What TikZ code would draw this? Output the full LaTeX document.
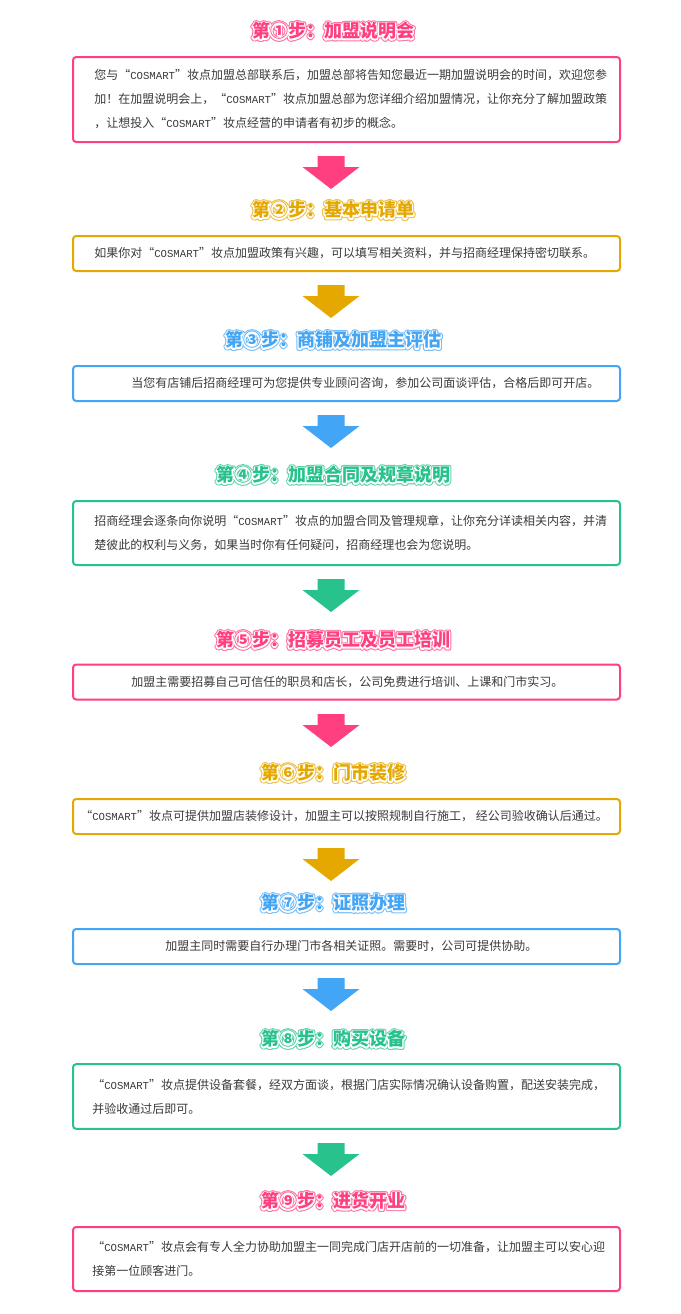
\documentclass[tikz,border=0pt]{standalone}
\usepackage{fontspec}
\usetikzlibrary{positioning}
\newfontfamily\cjk{Noto Sans CJK SC}
\newfontfamily\cjkrim{Noto Sans CJK SC}[BoldFeatures={FakeBold=14}]
\newfontfamily\cjkhalo{Noto Sans CJK SC}[BoldFeatures={FakeBold=26}]
\newfontfamily\monof{Liberation Mono}
\definecolor{pinkc}{HTML}{FF3F80}
\definecolor{goldc}{HTML}{E5A800}
\definecolor{bluec}{HTML}{42A5F5}
\definecolor{greenc}{HTML}{28C28C}
\definecolor{bodytext}{HTML}{3A3A3A}

\newcommand{\cosm}{{\monof\fontsize{8pt}{18pt}\selectfont COSMART}}
% step heading: coloured letters, white rim, pale halo
\newcommand{\steptitle}[2]{%
  \leavevmode\special{pdf:literal direct 1 j 1 J}%
  \rlap{\cjkhalo\bfseries\textcolor{#1!72}{#2}}%
  \rlap{\cjkrim\bfseries\textcolor{white}{#2}}%
  \textcolor{#1}{#2}}

\begin{document}
\begin{tikzpicture}[x=0.75pt, y=-0.75pt,
    card/.style={draw=#1, line width=1.5pt, rounded corners=2.4pt, minimum width=410.25pt, fill=white},
    body/.style={anchor=west, inner sep=0pt, align=left, text=bodytext, font=\cjk\fontsize{9pt}{18pt}\selectfont},
    heading/.style={inner sep=0pt, font=\cjk\bfseries\fontsize{13.5pt}{16pt}\selectfont},
    blockarrow/.pic={\fill[#1] (-13.5,0) -- (13.5,0) -- (13.5,11) -- (28.5,11) -- (0,33) -- (-28.5,11) -- (-13.5,11) -- cycle;}]
    \fill[white] (0,0) rectangle (681,1314);
    \useasboundingbox (0,0) rectangle (681,1314);

    % headings
    \node[heading] (s1) at (333,31)   {\steptitle{pinkc}{第①步：加盟说明会}};
    \node[heading] (s2) at (333,210)  {\steptitle{goldc}{第②步：基本申请单}};
    \node[heading] (s3) at (333,340)  {\steptitle{bluec}{第③步：商铺及加盟主评估}};
    \node[heading] (s4) at (333,475)  {\steptitle{greenc}{第④步：加盟合同及规章说明}};
    \node[heading] (s5) at (333,640)  {\steptitle{pinkc}{第⑤步：招募员工及员工培训}};
    \node[heading] (s6) at (333,773)  {\steptitle{goldc}{第⑥步：门市装修}};
    \node[heading] (s7) at (333,903)  {\steptitle{bluec}{第⑦步：证照办理}};
    \node[heading] (s8) at (333,1039) {\steptitle{greenc}{第⑧步：购买设备}};
    \node[heading] (s9) at (333,1201) {\steptitle{pinkc}{第⑨步：进货开业}};

    % boxes
    \node[card=pinkc,  minimum height=63.75pt] (b1) at (346.5,99.5)  {};
    \node[card=goldc,  minimum height=26.25pt] (b2) at (346.5,253.5) {};
    \node[card=bluec,  minimum height=26.25pt] (b3) at (346.5,383.5) {};
    \node[card=greenc, minimum height=48pt]    (b4) at (346.5,533)   {};
    \node[card=pinkc,  minimum height=26.25pt] (b5) at (346.5,682)   {};
    \node[card=goldc,  minimum height=26.25pt] (b6) at (346.5,816.5) {};
    \node[card=bluec,  minimum height=26.25pt] (b7) at (346.5,946.5) {};
    \node[card=greenc, minimum height=48.5pt]  (b8) at (346.5,1096.5) {};
    \node[card=pinkc,  minimum height=48pt]    (b9) at (346.5,1259)  {};

    % texts
    \node[body] (t1) at (94,0 |- b1) {您与“\cosm”妆点加盟总部联系后，加盟总部将告知您最近一期加盟说明会的时间，欢迎您参\\
        加！在加盟说明会上，“\cosm”妆点加盟总部为您详细介绍加盟情况，让你充分了解加盟政策\\
        ，让想投入“\cosm”妆点经营的申请者有初步的概念。};
    \node[body] (t2) at (94,0 |- b2) {如果你对“\cosm”妆点加盟政策有兴趣，可以填写相关资料，并与招商经理保持密切联系。};
    \node[body] (t3) at (131,0 |- b3) {当您有店铺后招商经理可为您提供专业顾问咨询，参加公司面谈评估，合格后即可开店。};
    \node[body] (t4) at (94,0 |- b4) {招商经理会逐条向你说明“\cosm”妆点的加盟合同及管理规章，让你充分详读相关内容，并清\\
        楚彼此的权利与义务，如果当时你有任何疑问，招商经理也会为您说明。};
    \node[body] (t5) at (131,0 |- b5) {加盟主需要招募自己可信任的职员和店长，公司免费进行培训、上课和门市实习。};
    \node[body] (t6) at (80,0 |- b6) {“\cosm”妆点可提供加盟店装修设计，加盟主可以按照规制自行施工， 经公司验收确认后通过。};
    \node[body] (t7) at (165,0 |- b7) {加盟主同时需要自行办理门市各相关证照。需要时，公司可提供协助。};
    \node[body] (t8) at (92,0 |- b8) {“\cosm”妆点提供设备套餐，经双方面谈，根据门店实际情况确认设备购置，配送安装完成，\\
        并验收通过后即可。};
    \node[body] (t9) at (92,0 |- b9) {“\cosm”妆点会有专人全力协助加盟主一同完成门店开店前的一切准备，让加盟主可以安心迎\\
        接第一位顾客进门。};

    % arrows between the steps
    \foreach \ay/\ac [count=\i] in {156/pinkc, 285/goldc, 415/bluec, 579/greenc, 714/pinkc, 848/goldc, 978/bluec, 1143/greenc}
        \pic (arr\i) at (331,\ay) {blockarrow=\ac};
\end{tikzpicture}
\end{document}
